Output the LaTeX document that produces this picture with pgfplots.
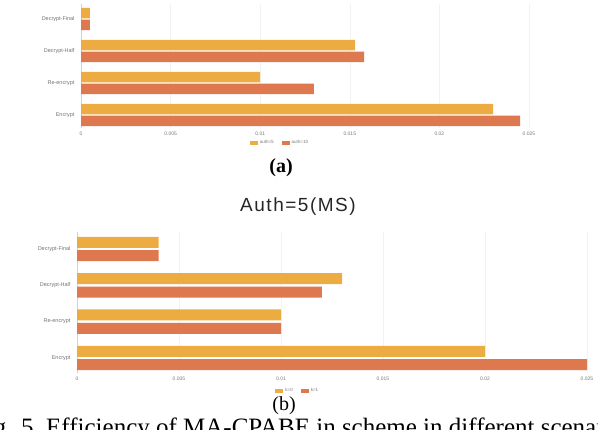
\documentclass[border=0pt]{standalone}
\usepackage{fontspec}
\usepackage{pgfplots}
\pgfplotsset{compat=1.18}
\setmainfont{Liberation Serif}
\newfontfamily\sans{Liberation Sans}
\newfontfamily\sansLS[LetterSpace=8]{Liberation Sans}
\definecolor{cyel}{RGB}{236,172,66}
\definecolor{cora}{RGB}{222,120,78}
\definecolor{tickgray}{RGB}{120,120,120}
\pgfplotsset{
  mybar/.style={
    scale only axis,
    xbar,
    xmin=0, xmax=0.025,
    scaled x ticks=false,
    xtick={0,0.005,0.01,0.015,0.02,0.025},
    xticklabels={0,0.005,0.01,0.015,0.02,0.025},
    ytick={0,1,2,3},
    yticklabels={Encrypt,Re-encrypt,Decrypt-Half,Decrypt-Final},
    axis lines*=left,
    x axis line style={draw=none},
    y axis line style={draw=gray!35, line width=0.6pt},
    major tick length=0pt,
    xmajorgrids,
    grid style={gray!10, line width=0.5pt},
    xticklabel style={font=\sans\fontsize{5}{6}\selectfont, text=tickgray},
    yticklabel style={font=\sans\fontsize{5.5}{6.5}\selectfont, text=gray!90!black, xshift=-3pt},
    legend style={draw=none, fill=none, font=\sans\fontsize{4.5}{5}\selectfont, text=tickgray,
      legend columns=2, inner sep=1pt,
      /tikz/every even column/.append style={column sep=6pt}},
    legend image code/.code={\path[#1] (0pt,-1.6pt) rectangle (8pt,1.6pt);},
  }
}
\begin{document}
\begin{tikzpicture}
% ---------- (a) ----------
\begin{axis}[mybar,
  at={(81pt,302pt)}, anchor=south west,
  width=448pt, height=124pt,
  ymin=-0.406, ymax=3.47,
  bar width=10.5pt,
  legend style={at={(0.444,-0.121)}, anchor=center},
]
\addplot[fill=cyel, draw=none, bar shift=5.8pt] coordinates {
  (0.0230,0) (0.0100,1) (0.0153,2) (0.0005,3)};
\addplot[fill=cora, draw=none, bar shift=-5.8pt] coordinates {
  (0.0245,0) (0.0130,1) (0.0158,2) (0.0005,3)};
\legend{auth=5, auth=10}
\end{axis}
% ---------- (b) ----------
\begin{axis}[mybar,
  at={(77pt,57pt)}, anchor=south west,
  width=510pt, height=141pt,
  ymin=-0.413, ymax=3.468,
  bar width=11pt,
  legend style={at={(0.433,-0.128)}, anchor=center},
]
\addplot[fill=cyel, draw=none, bar shift=6.7pt] coordinates {
  (0.0200,0) (0.0100,1) (0.0130,2) (0.0040,3)};
\addplot[fill=cora, draw=none, bar shift=-6.7pt] coordinates {
  (0.0250,0) (0.0100,1) (0.0120,2) (0.0040,3)};
\legend{k=0, k=1}
\end{axis}
% ---------- texts ----------
\node[font=\fontsize{20}{24}\selectfont\bfseries] at (281pt,262pt) {(a)};
\node[font=\sansLS\fontsize{19}{22}\selectfont, text=black!85] at (298pt,223pt) {Auth=5(MS)};
\node[font=\fontsize{20}{24}\selectfont] at (284pt,24pt) {(b)};
\node[font=\fontsize{25}{28}\selectfont, anchor=base east, inner sep=0pt] at (40pt,-6pt) {Fig. 5.};
\node[font=\fontsize{25}{28}\selectfont, anchor=base west, inner sep=0pt] at (46pt,-6pt) {Efficiency of MA-CPABE in scheme in different scenarios};
\pgfresetboundingbox
\useasboundingbox (0pt,0pt) rectangle (598pt,430pt);
\end{tikzpicture}
\end{document}
